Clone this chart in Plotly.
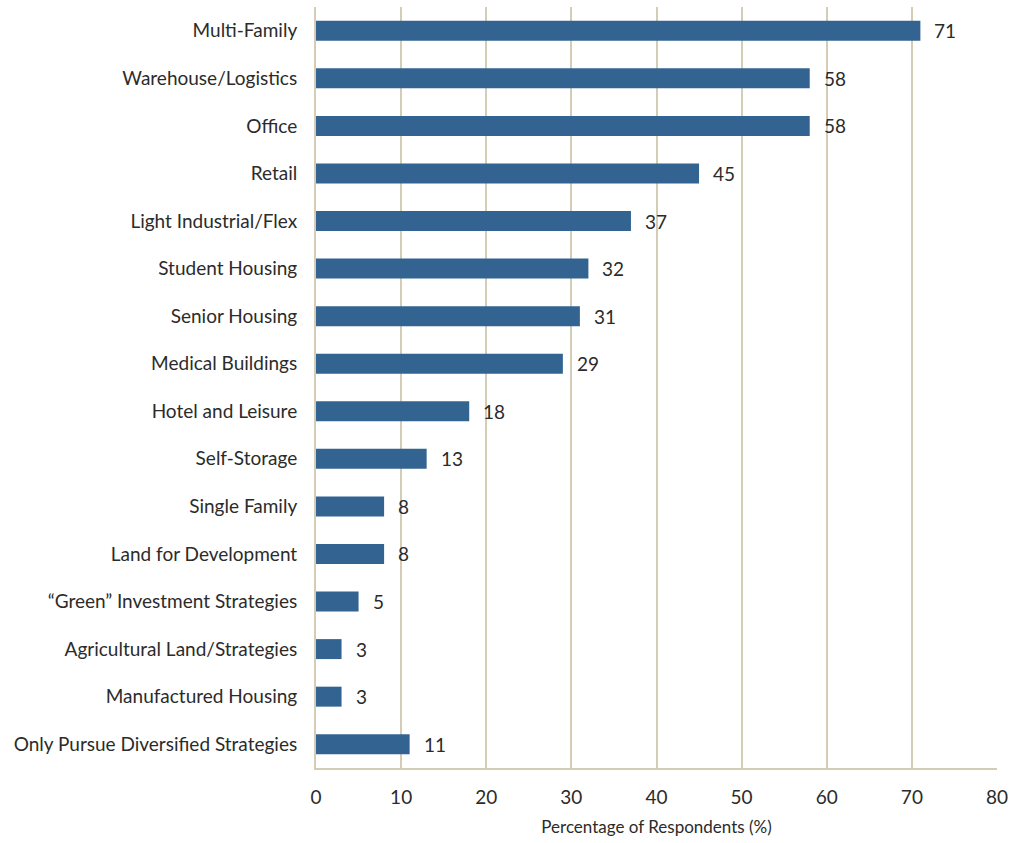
import plotly.graph_objects as go

# Property types, listed top to bottom
categories = [
    "Multi-Family",
    "Warehouse/Logistics",
    "Office",
    "Retail",
    "Light Industrial/Flex",
    "Student Housing",
    "Senior Housing",
    "Medical Buildings",
    "Hotel and Leisure",
    "Self-Storage",
    "Single Family",
    "Land for Development",
    "\u201cGreen\u201d Investment Strategies",
    "Agricultural Land/Strategies",
    "Manufactured Housing",
    "Only Pursue Diversified Strategies",
]
# Percentage of respondents
values = [71, 58, 58, 45, 37, 32, 31, 29, 18, 13, 8, 8, 5, 3, 3, 11]
x_ticks = [0, 10, 20, 30, 40, 50, 60, 70, 80]

BAR = "#336491"
GRID = "#d5ccb6"
TEXT = "#2b2b2b"
FONT = "Lato, 'Open Sans', sans-serif"

fig = go.Figure(
    go.Bar(
        x=values,
        y=categories,
        orientation="h",
        marker=dict(color=BAR, line=dict(width=0)),
        width=0.42,
        hoverinfo="x+y",
    )
)

# Value labels placed just past the end of each bar
for cat, v in zip(categories, values):
    fig.add_annotation(
        x=v,
        y=cat,
        text=str(v),
        showarrow=False,
        xanchor="left",
        xshift=12,
        font=dict(family=FONT, size=19, color=TEXT),
    )

fig.update_layout(
    width=1018,
    height=843,
    margin=dict(l=316, r=21, t=7, b=75),
    paper_bgcolor="white",
    plot_bgcolor="white",
    showlegend=False,
    font=dict(family=FONT, size=19, color=TEXT),
    xaxis=dict(
        range=[0, 80],
        tickvals=x_ticks,
        ticktext=[str(t) for t in x_ticks],
        automargin=False,
        showgrid=True,
        gridcolor=GRID,
        gridwidth=2,
        showline=True,
        linecolor=GRID,
        linewidth=2,
        zeroline=False,
        ticks="",
        ticklabelstandoff=11,
        tickfont=dict(size=19, color=TEXT),
        title=dict(
            text="Percentage of Respondents (%)",
            font=dict(size=17, color=TEXT),
            standoff=14,
        ),
    ),
    yaxis=dict(
        categoryorder="array",
        categoryarray=categories,
        autorange="reversed",
        range=[15.5, -0.5],
        automargin=False,
        showgrid=False,
        showline=True,
        linecolor=GRID,
        linewidth=2,
        ticks="",
        ticklabelstandoff=13,
        tickfont=dict(size=19, color=TEXT),
    ),
)

fig.write_html("out.html")
